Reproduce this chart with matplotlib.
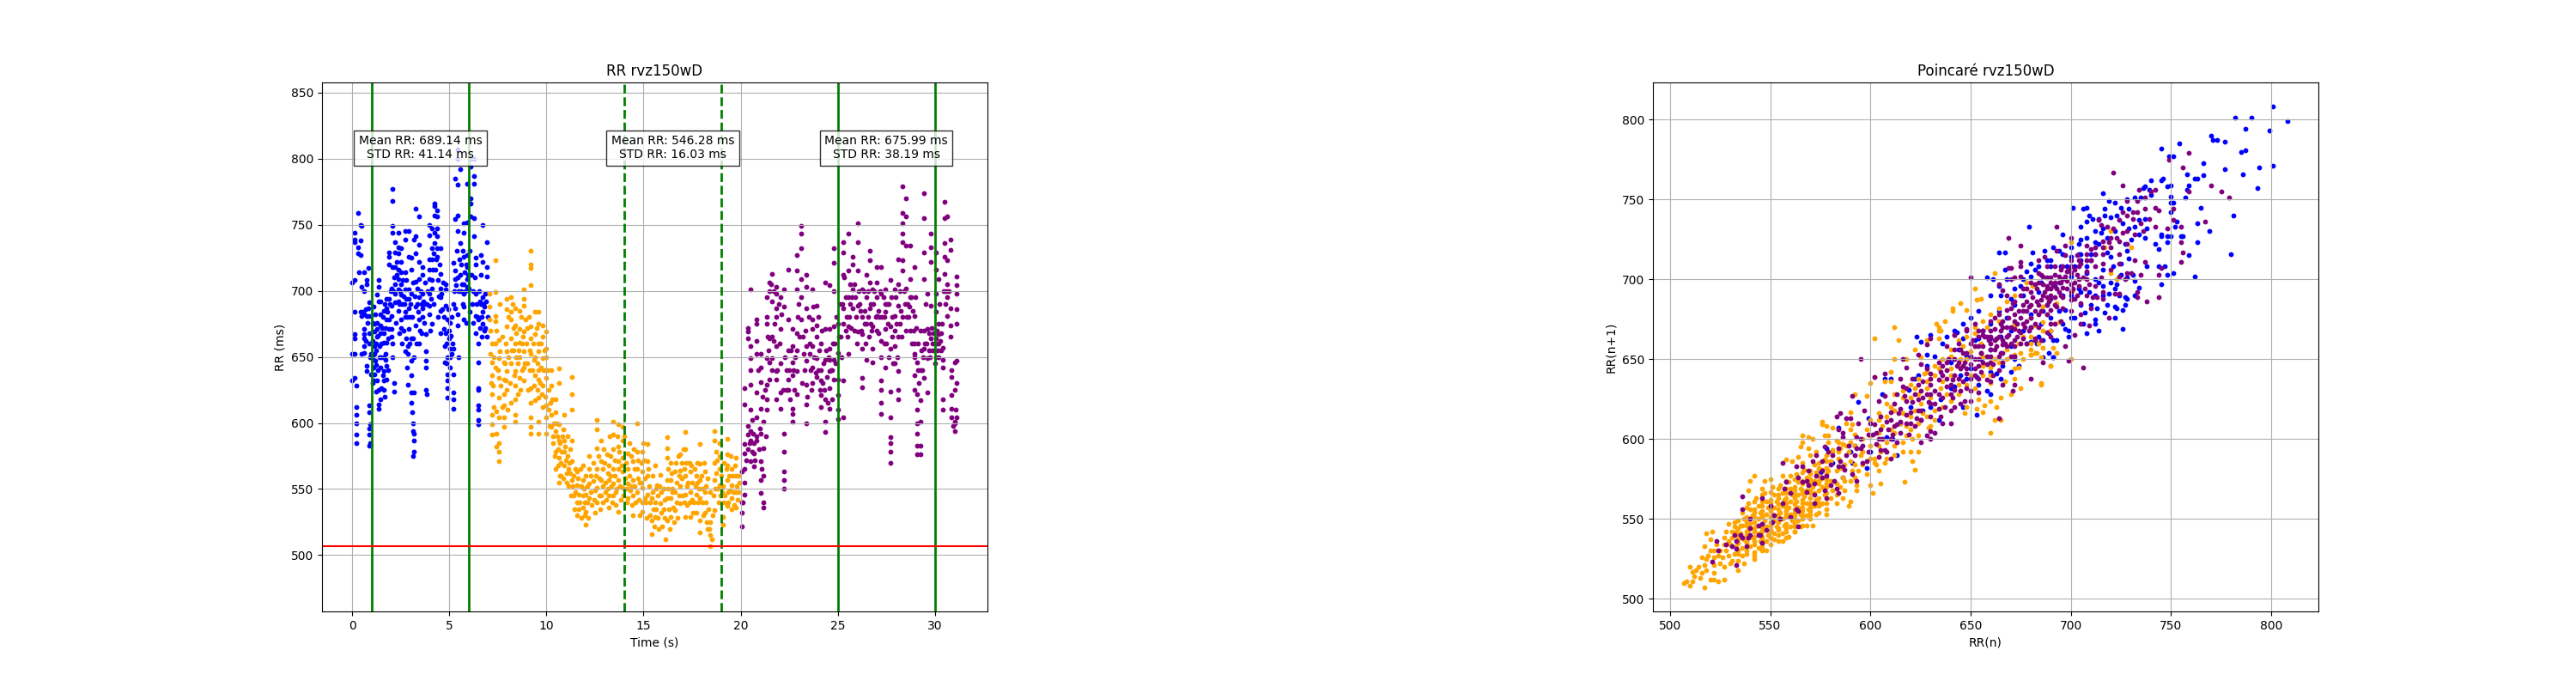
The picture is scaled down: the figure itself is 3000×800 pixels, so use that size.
import matplotlib
matplotlib.use("Agg")
from matplotlib import pyplot as plt

# RR series, (time, rr)
blue_rr = [(0,632),(0,652),(0,706),(0.09,737),(0.09,739),(0.09,744),(0.09,652),(0.09,664),(0.09,667),(0.13,684),(0.13,708),(0.13,634),
(0.18,612),(0.18,591),(0.18,600),(0.18,606),(0.2,585),(0.18,628),(0.28,733),(0.3,728),(0.3,759),(0.35,714),(0.4,750),(0.4,738),(0.4,727),(0.42,684),
(0.45,749),(0.45,703),(0.47,681),(0.47,652),(0.58,714),(0.58,700),(0.58,671),(0.58,664),(0.6,658),(0.6,667),(0.6,653),(0.72,705),(0.75,708),(0.72,681),(0.72,643),(0.72,639),
(0.8,717),(0.8,687),(0.82,681),(0.87,691),(0.87,613),(0.87,608),(0.87,596),(0.87,591),(0.87,583),(0.87,660),(0.94,681),(0.94,652),(0.94,637),(0.92,599),(0.92,585),
(1.12,675),(1.14,658),(1.14,652),(1.16,647),(1.14,637),(1.12,669),(1.05,650),(1.08,642),(1.1,632),(1.24,697),(1.24,671),(1.26,665),(1.24,632),(1.22,644),(1.2,655),(1.2,660),
(1.34,708),(1.36,703),(1.34,692),(1.34,625),(1.34,611),(1.34,614),(1.3,640),(1.46,692),(1.46,682),(1.46,674),(1.46,642),(1.46,618),(1.5,626),(1.48,650),(1.5,660),
(1.6,685),(1.6,668),(1.6,661),(1.6,650),(1.6,639),(1.62,632),(1.62,625),(1.75,694),(1.75,687),(1.75,678),(1.75,661),(1.75,643),(1.75,633),(1.7,652),(1.72,648),
(1.86,729),(1.86,726),(1.86,720),(1.86,694),(1.86,671),(1.86,678),(2,671),(2,665),(2,681),(2,689),(2.08,777),(2.08,768),(2.08,749),(2.08,744),(2.08,718),(2.08,650),(2.15,630),(2.15,624),
(2.2,737),(2.2,729),(2.2,718),(2.2,691),(2.2,698),(2.35,744),(2.35,733),(2.35,728),(2.35,716),(2.35,709),(2.35,701),(2.35,692),(2.35,685),(2.49,732),(2.49,722),(2.49,714),(2.49,705),(2.49,697),(2.49,678),(2.49,672),
(2.71,745),(2.71,739),(2.71,714),(2.71,701),(2.71,684),(2.71,680),(2.71,654),(2.89,745),(2.89,726),(2.89,701),(2.89,687),(2.89,671),(2.85,658),(2.85,652),(2.8,642),(2.85,629),
(3.04,725),(3.04,716),(3.04,698),(3.04,664),(3.04,647),(3.04,636),(3.04,623),(3.04,615),(3.06,608),(3.12,600),(3.14,594),(3.16,739),(3.16,587),(3.16,578),(3.14,575),(3.16,592),(3.16,623),(3.1,664),
(3.27,762),(3.27,741),(3.27,728),(3.27,707),(3.27,688),(3.27,674),(3.45,756),(3.45,735),(3.45,722),(3.45,709),(3.45,695),(3.45,678),(3.45,660),(3.6,718),(3.6,712),(3.6,698),(3.6,687),(3.6,680),
(3.79,667),(3.79,654),(3.79,647),(3.79,642),(3.79,625),(3.85,622),(3.94,750),(3.94,742),(3.94,724),(3.94,709),(3.94,698),(3.94,689),(3.94,682),(4.1,747),(4.1,724),(4.1,708),(4.1,702),(4.1,675),
(4.22,766),(4.22,764),(4.22,757),(4.22,744),(4.22,736),(4.38,761),(4.38,756),(4.38,747),(4.38,741),(4.38,726),(4.53,732),(4.53,713),(4.53,702),(4.53,695),(4.53,685),(4.78,705),(4.78,701),(4.78,689),(4.7,671),(4.75,658),(4.75,646),
(4.88,678),(4.88,637),(4.88,632),(4.88,626),(4.88,619),(4.88,650),(5.03,676),(5.03,665),(5.03,656),(5.03,650),(5.03,642),(5.22,721),(5.22,656),(5.22,637),(5.22,623),(5.22,618),(5.22,611),
(5.3,785),(5.3,754),(5.3,715),(5.3,709),(5.3,687),(5.44,780),(5.44,757),(5.44,807),(5.44,800),(5.44,745),(5.44,674),(5.44,682),(5.55,792),(5.55,736),(5.55,712),
(5.74,751),(5.74,744),(5.74,726),(5.74,705),(5.74,698),(5.74,688),(5.74,678),(5.91,781),(5.91,752),(5.91,727),(5.91,718),(5.91,709),(5.91,703),(6.1,800),(6.1,794),(6.1,770),(6.1,766),(6.1,756),
(6.25,800),(6.25,787),(6.25,781),(6.25,755),(6.25,741),(6.33,725),(6.33,720),(6.33,698),(6.33,681),(6.47,646),(6.47,626),(6.47,625),(6.47,613),(6.47,610),(6.47,602),(6.47,599),(6.47,660),
(6.7,750),(6.6,727),(6.7,722),(6.7,695),(6.7,684),(6.7,675),(6.92,737),(6.92,718),(6.92,711),(6.92,665),(6.85,698),(6.6,690),(6.65,680),(6.8,688),(6.55,672),
(0.55,684),(0.62,682),(0.68,686),(0.78,676),(0.85,668),(1.02,662),(1.05,676),(1.1,688),(1.18,682),(1.28,676),(1.32,666),(1.38,658),(1.42,668),(1.52,672),(1.55,680),(1.65,690),(1.7,672),(1.8,684),(1.82,664),(1.92,690),(1.95,700),(2.02,702),(2.12,700),
(2.14,710),(2.18,705),(2.26,712),(2.3,722),(2.4,690),(2.44,700),(2.54,690),(2.58,708),(2.62,696),(2.66,690),(2.76,694),(2.78,708),(2.82,680),(2.92,694),(2.96,680),(3,690),(3.08,680),(3.12,706),(3.22,696),(3.32,690),(3.36,702),(3.4,684),(3.48,670),(3.52,700),(3.56,690),(3.66,692),(3.7,676),(3.74,706),
(3.84,690),(3.88,700),(3.98,716),(4.04,694),(4.08,732),(4.14,716),(4.18,728),(4.26,716),(4.3,724),(4.34,732),(4.42,708),(4.46,696),(4.5,720),(4.6,698),(4.64,686),(4.68,706),(4.72,680),(4.82,668),(4.86,660),(4.92,686),(4.96,670),(5,664),(5.08,666),(5.12,652),(5.16,660),(5.26,700),(5.34,704),(5.38,730),(5.42,710),(5.48,700),(5.52,724),(5.6,720),(5.64,705),(5.68,730),(5.78,714),(5.82,700),(5.86,720),(5.95,712),(6,702),(6.04,730),(6.14,712),(6.18,690),(6.22,700),(6.3,710),(6.4,690),(6.44,680),(6.52,700),(6.56,692),(6.62,712),(6.75,690),(6.78,670),(6.88,692),(6.95,680),
(0.7,662),(0.9,650),(1.05,630),(1.2,624),(1.4,650),(1.55,636),(1.68,620),(1.85,640),(2.05,660),(2.25,676),(2.4,668),(2.55,660),(2.65,670),(2.75,664),(2.95,660),(3.15,650),(3.3,660),(3.55,668),(3.75,690),(4,670),(4.2,690),(4.4,680),(4.55,668),(4.85,645),(5.1,680),(5.2,690),(5.45,650),(5.6,700),(5.7,690),(5.85,676),(6.02,684),(6.2,676),(6.35,668),(6.5,678),(6.65,665),(6.82,672)]

orange_rr = [(7.05,698),(7.05,688),(7.05,678),(7.2,660),(7.2,646),(7.2,636),(7.2,622),(7.2,606),(7.2,599),(7.2,591),(7.35,723),(7.35,699),(7.35,681),(7.35,677),(7.35,660),(7.35,642),
(7.55,663),(7.55,649),(7.55,634),(7.55,619),(7.55,604),(7.55,585),(7.55,578),(7.55,571),(7.43,609),(7.43,592),(7.43,582),(7.8,646),(7.8,633),(7.8,622),(7.8,613),(7.8,604),(7.8,597),
(7.95,694),(7.95,686),(7.95,673),(7.95,654),(7.95,639),(7.95,625),(8.17,695),(8.17,684),(8.17,678),(8.17,664),(8.17,645),(8.39,687),(8.39,674),(8.39,660),(8.39,639),(8.39,628),(8.39,618),(8.39,606),(8.39,601),
(8.6,685),(8.6,671),(8.6,661),(8.6,650),(8.6,634),(8.83,701),(8.83,694),(8.83,689),(8.83,669),(8.83,654),(8.83,642),(8.83,632),(9.2,730),(9.2,720),(9.2,717),(9.2,704),(9.2,673),(9.2,664),(9.2,652),(9.2,626),(9.2,615),(9.2,604),(9.2,597),(9.2,592),
(9.42,684),(9.42,667),(9.42,636),(9.42,617),(9.6,684),(9.6,675),(9.6,654),(9.6,640),(9.6,633),(9.6,619),(9.6,601),(9.6,592),(9.8,674),(9.8,665),(9.8,649),(9.8,628),(9.8,612),
(10,669),(10,656),(10,650),(10,634),(10,613),(10,604),(10,592),(10.24,640),(10.24,628),(10.24,606),(10.24,597),(10.46,618),(10.46,608),(10.46,594),(10.46,578),(10.46,565),(10.63,641),(10.63,630),(10.63,599),(10.63,587),(10.63,574),(10.63,555),
(10.9,606),(10.9,587),(10.9,578),(10.9,568),(11.3,635),(11.3,622),(11.3,610),(11.3,587),(11.3,571),(11.3,557),(11.25,545),(11.56,563),(11.56,553),(11.56,540),(11.56,530),(11.86,568),(11.86,557),(11.86,545),(11.86,536),
(12.03,560),(12.03,546),(12.03,533),(12.03,523),(12.2,575),(12.2,565),(12.2,554),(12.2,543),(12.6,602),(12.6,595),(12.6,581),(12.6,565),(12.6,551),(12.6,540),(12.8,587),(12.8,571),(12.8,557),(12.8,545),
(13.2,568),(13.2,557),(13.2,545),(13.2,536),(13.43,601),(13.43,591),(13.43,580),(13.43,565),(13.43,554),(13.43,545),(13.7,599),(13.7,582),(13.7,571),(13.7,557),(13.7,533),(13.9,597),(13.9,587),(13.9,574),(13.9,563),(13.9,551),
(14.2,577),(14.2,565),(14.2,554),(14.2,543),(14.45,571),(14.45,557),(14.45,545),(14.45,530),(14.65,600),(14.65,578),(14.65,565),(14.65,548),(14.95,578),(14.95,563),(14.95,551),(14.95,533),(15.2,584),(15.2,571),(15.2,560),(15.2,546),
(15.4,543),(15.4,526),(15.4,516),(15.6,568),(15.6,540),(15.6,529),(15.85,561),(15.85,539),(16.2,589),(16.2,581),(16.2,574),(16.2,557),(16.2,543),(16.2,526),(16.15,512),(16.4,570),(16.4,557),(16.4,543),(16.4,529),
(16.6,563),(16.6,548),(16.6,534),(16.9,576),(16.9,564),(16.9,552),(16.9,539),(17.15,593),(17.15,580),(17.15,560),(17.15,546),(17.15,529),(17.4,563),(17.4,548),(17.4,529),(17.7,560),(17.7,546),(17.7,532),
(17.9,584),(17.9,569),(17.9,557),(17.9,543),(17.9,526),(17.9,517),(18.15,563),(18.15,548),(18.15,532),(18.45,548),(18.45,525),(18.45,515),(18.45,507),(18.65,594),(18.65,587),(18.65,570),(18.65,557),(18.65,534),
(18.9,585),(18.9,575),(18.9,565),(18.9,553),(19.1,552),(19.1,529),(19.1,523),(19.3,588),(19.3,576),(19.3,568),(19.3,557),(19.3,537),(19.55,565),(19.55,553),(19.55,543),(19.75,574),(19.75,560),(19.75,548),(19.75,536),(19.9,548),(19.9,560),
(11.5,548),(11.7,540),(12.4,556),(12.5,549),(12.9,552),(13.05,548),(13.3,560),(13.6,550),(14.05,558),(14.3,549),(14.8,555),(15.05,543),(15.7,553),(16.05,535),(16.5,550),(17,545),(17.3,555),(17.6,540),(18.05,540),(18.3,558),(19.2,545),(19.45,549),(10.8,590),(11.1,575),(11.4,560),
(7.1,670),(7.15,630),(7.28,650),(7.3,612),(7.48,640),(7.6,654),(7.65,628),(7.7,612),(7.88,660),(7.9,632),(8.02,680),(8.05,650),(8.1,630),(8.25,690),(8.28,655),(8.32,636),(8.45,668),(8.5,645),(8.52,622),(8.68,680),(8.72,660),(8.75,640),(8.9,678),(8.95,660),(9,645),(9.05,625),(9.1,680),(9.12,640),(9.3,660),(9.35,648),(9.38,628),(9.5,672),(9.52,645),(9.55,625),(9.7,660),(9.72,642),(9.75,622),(9.9,655),(9.92,640),(9.95,620),(10.1,625),(10.12,610),(10.15,598),(10.3,618),(10.35,585),(10.38,600),
(10.55,590),(10.58,580),(10.6,568),(10.7,585),(10.72,570),(10.75,560),(10.85,595),(10.95,582),(11,572),(11.02,562),(11.08,590),(11.12,565),(11.15,552),(11.2,580),(11.22,562),(11.35,552),(11.4,545),(11.42,535),(11.48,565),(11.62,558),(11.65,546),(11.68,535),(11.75,565),(11.78,552),(11.8,528),(11.92,550),(11.95,540),(11.98,530),(12.1,552),(12.12,540),(12.15,528),(12.28,560),(12.3,548),(12.32,538),(12.42,570),(12.45,542),(12.48,532),(12.55,560),(12.68,575),(12.7,558),(12.72,545),(12.75,535),(12.88,565),(12.92,540),(12.95,580),(13,570),(13.02,555),(13.08,542),(13.12,576),(13.15,562),(13.18,550),(13.25,590),(13.28,575),(13.32,552),(13.38,540),(13.5,572),(13.52,560),(13.55,548),(13.58,538),(13.65,590),(13.68,565),(13.75,578),(13.78,552),(13.82,542),(13.85,568),
(13.95,545),(14.02,590),(14.08,570),(14.12,550),(14.15,540),(14.25,585),(14.28,560),(14.35,575),(14.38,552),(14.42,538),(14.5,580),(14.52,565),(14.55,552),(14.58,540),(14.7,572),(14.72,558),(14.75,542),(14.78,530),(14.88,570),(14.9,555),(14.92,540),(15,585),(15.02,572),(15.08,558),(15.12,540),(15.15,528),(15.25,565),(15.28,552),(15.32,540),(15.35,530),(15.45,560),(15.48,548),(15.52,535),(15.55,522),(15.62,550),(15.65,535),(15.72,545),(15.75,528),(15.78,520),(15.82,552),(15.9,548),(15.92,532),(15.95,522),(16.02,550),(16.08,542),(16.1,528),(16.25,565),(16.28,550),(16.32,535),(16.35,520),(16.45,562),(16.48,548),(16.52,536),(16.55,525),(16.68,570),(16.7,555),(16.72,540),(16.75,528),(16.8,575),(16.82,560),(16.85,545),(16.95,570),(16.98,558),(17.05,580),(17.08,565),(17.1,540),(17.2,570),(17.22,552),(17.25,538),(17.35,570),(17.38,540),(17.45,568),(17.5,555),(17.52,542),(17.55,532),(17.65,565),(17.68,552),(17.75,570),(17.78,555),(17.8,540),(17.85,550),(18,560),(18.02,550),(18.08,530),(18.1,570),(18.2,552),(18.22,540),(18.25,525),(18.3,520),(18.35,535),(18.4,520),(18.5,512),(18.55,530),(18.6,545),(18.7,550),(18.72,578),(18.75,562),(18.8,572),(18.82,550),(18.85,540),(18.95,545),(19,560),(19.05,548),(19.12,570),(19.15,540),(19.25,565),(19.35,548),(19.38,540),(19.42,560),(19.5,575),(19.52,535),(19.6,560),(19.62,548),(19.65,538),(19.7,568),(19.8,552),(19.85,542),(19.95,555),
(7.12,652),(7.25,628),(7.4,670),(7.58,690),(7.72,665),(7.85,645),(8,610),(8.15,615),(8.2,655),(8.3,672),(8.42,650),(8.55,655),(8.65,625),(8.78,665),(8.88,645),(9,672),(9.15,655),(9.25,640),(9.4,650),(9.58,660),(9.68,630),(9.85,640),(10.05,640),(10.2,615),(10.32,590),(10.42,575),(10.52,600),(10.68,560),(10.78,578),(10.88,558),(11.05,555),(11.18,570)]

purple_rr = [(20.05,522),(20.05,532),(20.05,540),(20.05,563),(20.22,565),(20.22,555),(20.22,546),(20.22,577),(20.22,584),(20.22,614),(20.22,626),(20.37,598),(20.37,591),(20.37,580),(20.37,672),(20.37,664),(20.37,669),
(20.52,701),(20.52,658),(20.52,640),(20.52,649),(20.52,629),(20.52,610),(20.52,571),(20.52,587),(20.52,594),(20.7,585),(20.7,577),(20.7,567),(20.84,678),(20.84,675),(20.84,662),(20.84,652),(20.84,623),(20.84,604),(20.84,587),
(21.04,652),(21.04,642),(21.04,631),(21.04,611),(21.04,592),(21.04,571),(21.04,557),(21.04,547),(21.18,536),(21.18,540),(21.18,560),(21.18,581),(21.18,601),(21.33,695),(21.33,680),(21.33,675),(21.33,649),(21.33,618),(21.33,610),(21.33,629),
(21.48,706),(21.48,700),(21.48,664),(21.48,646),(21.48,633),(21.63,713),(21.63,692),(21.63,665),(21.63,649),(21.85,703),(21.85,698),(21.85,687),(21.85,680),(21.85,658),(21.85,639),(21.85,633),(21.85,618),
(22.07,695),(22.07,671),(22.07,623),(22.07,611),(22.22,701),(22.22,688),(22.22,592),(22.22,578),(22.22,563),(22.22,557),(22.22,550),(22.44,716),(22.44,678),(22.44,655),(22.44,633),(22.44,625),
(22.66,671),(22.66,658),(22.66,646),(22.66,636),(22.66,611),(22.66,607),(22.66,601),(22.88,727),(22.88,715),(22.88,701),(22.88,668),(22.88,639),(22.88,622),(23.1,749),(23.1,743),(23.1,732),(23.1,709),(23.1,695),(23.1,678),
(23.4,712),(23.4,703),(23.4,687),(23.4,658),(23.4,647),(23.4,629),(23.4,614),(23.4,600),(23.7,701),(23.7,678),(23.7,671),(23.7,658),(23.7,642),(23.7,630),(23.92,689),(23.92,674),(23.92,665),(23.92,649),
(24.14,640),(24.14,632),(24.14,621),(24.14,612),(24.36,706),(24.36,671),(24.36,648),(24.36,618),(24.36,601),(24.36,593),(24.58,704),(24.58,671),(24.58,656),(24.58,639),(24.58,626),(24.58,611),
(24.8,732),(24.8,721),(24.8,700),(24.8,673),(24.8,648),(24.8,633),(25.04,653),(25.04,633),(25.04,621),(25.04,610),(25.04,603),(25.3,737),(25.3,729),(25.3,712),(25.3,687),(25.3,675),(25.3,632),(25.3,604),
(25.55,743),(25.55,715),(25.55,695),(25.55,673),(25.55,652),(25.77,726),(25.77,720),(25.77,701),(25.77,687),(26.04,751),(26.04,737),(26.04,715),(26.04,689),(26.04,669),(26.28,701),(26.28,667),(26.28,656),(26.28,634),(26.28,627),
(26.5,712),(26.5,695),(26.5,675),(26.5,648),(26.65,730),(26.65,723),(26.65,706),(26.65,687),(26.8,701),(26.8,673),(26.8,656),(26.8,646),(27.03,718),(27.03,706),(27.03,695),(27.03,681),
(27.25,718),(27.25,698),(27.25,662),(27.25,650),(27.25,632),(27.25,625),(27.25,615),(27.25,607),(27.47,701),(27.47,684),(27.47,671),(27.47,642),(27.7,708),(27.7,673),(27.7,656),(27.7,624),(27.7,604),(27.7,589),(27.7,585),(27.7,578),(27.7,570),
(27.92,701),(27.92,681),(27.92,658),(27.92,645),(28.14,724),(28.14,705),(28.14,689),(28.14,639),(28.14,625),(28.14,618),(28.36,779),(28.36,759),(28.36,751),(28.36,743),(28.36,737),(28.36,723),(28.36,715),
(28.5,770),(28.5,756),(28.5,734),(28.5,702),(28.5,670),(28.72,734),(28.72,709),(28.72,695),(28.94,718),(28.94,681),(28.94,660),(28.94,652),(28.94,636),(28.94,625),(29.1,646),(29.1,622),(29.1,610),(29.1,600),(29.1,583),(29.1,592),(29.1,576),
(29.25,617),(29.25,601),(29.25,583),(29.25,576),(29.25,640),(29.45,774),(29.45,755),(29.45,729),(29.45,709),(29.45,670),(29.45,656),(29.45,634),(29.63,698),(29.63,671),(29.63,649),(29.63,623),(29.78,743),(29.78,733),(29.78,722),(29.78,689),(29.78,664),
(30.05,729),(30.05,716),(30.05,698),(30.05,684),(30.05,664),(30.05,650),(30.2,709),(30.2,675),(30.2,667),(30.2,660),(30.4,657),(30.4,648),(30.4,618),(30.4,610),(30.4,642),(30.5,767),(30.5,755),(30.5,736),(30.5,726),(30.5,713),
(30.65,756),(30.65,723),(30.65,705),(30.65,695),(30.65,681),(30.8,739),(30.8,731),(30.8,687),(30.8,674),(30.8,665),(30.88,635),(30.88,621),(30.88,611),(30.88,604),(31.02,594),(31.02,646),(31.02,625),(31.02,601),(31.12,711),(31.12,704),(31.12,698),(31.12,686),(31.12,675),(31.12,630),(31.12,604),(31.12,647),
(20.12,540),(20.3,572),(20.45,585),(20.58,578),(20.62,592),(20.75,572),(20.8,590),(20.95,580),(21,596),(21.1,565),(21.25,625),(21.4,665),(21.55,705),(21.7,700),(21.75,675),(21.95,690),(22,660),(22.12,682),(22.3,650),(22.35,625),(22.5,640),(22.55,618),(22.75,625),(22.8,650),(22.95,680),(23,690),(23.2,665),(23.25,652),(23.3,640),(23.5,680),(23.55,652),(23.6,640),(23.75,688),(23.8,650),(23.85,638),(24,680),(24.05,655),(24.1,625),(24.2,670),(24.25,645),(24.3,625),(24.45,635),(24.5,615),(24.52,650),(24.65,640),(24.7,618),(24.75,660),(24.9,645),(24.95,680),(25.1,690),(25.15,665),(25.2,650),(25.35,710),(25.4,695),(25.45,680),(25.5,665),(25.62,705),(25.65,690),(25.7,672),(25.85,705),(25.9,695),(25.95,680),(26.1,700),(26.15,685),(26.2,670),(26.35,700),(26.4,685),(26.45,660),(26.58,700),(26.6,665),(26.72,690),(26.75,670),(26.9,700),(26.95,680),(27.1,685),(27.12,668),(27.18,700),(27.35,695),(27.4,680),(27.42,660),(27.55,690),(27.6,675),(27.62,650),(27.78,695),(27.82,665),(27.85,645),(28,695),(28.05,675),(28.08,650),(28.2,700),(28.25,685),(28.3,665),(28.42,700),(28.6,690),(28.65,680),(28.8,695),(28.85,685),(28.9,670),(29,695),(29.05,672),(29.15,660),(29.2,630),(29.3,655),(29.35,640),(29.5,660),(29.55,690),(29.7,668),(29.72,655),(29.85,672),(29.9,660),(29.95,668),(30.1,670),(30.15,655),(30.25,690),(30.3,662),(30.35,668),(30.45,700),(30.55,690),(30.6,700),(30.75,700),(30.85,640),(30.95,598),(31.05,600),(31.08,610),
(20.6,602),(20.9,640),(21.15,620),(21.3,590),(21.45,655),(21.6,640),(21.72,662),(21.9,640),(22.05,645),(22.18,625),(22.38,640),(22.6,655),(22.72,640),(22.9,655),(23.05,665),(23.15,630),(23.35,670),(23.45,620),(23.58,660),(23.65,625),(23.9,635),(24.02,640),(24.12,660),(24.22,630),(24.42,655),(24.6,648),(24.72,640),(24.85,660),(25,675),(25.08,665),(25.25,690),(25.42,670),(25.6,680),(25.72,695),(25.88,670),(26,660),(26.12,690),(26.25,680),(26.38,675),(26.55,680),(26.7,675),(26.85,690),(27,670),(27.15,680),(27.3,680),(27.45,690),(27.5,660),(27.65,690),(27.8,680),(27.95,670),(28.1,665),(28.22,675),(28.35,680),(28.48,690),(28.55,680),(28.68,688),(28.75,670),(28.82,660),(28.98,650),(29.12,640),(29.28,670),(29.4,650),(29.6,660),(29.75,650),(29.88,655),(30,645),(30.12,660),(30.22,650),(30.32,655),(30.38,675)]

# Poincare pairs, (rr_n, rr_n1)
blue_poincare = [(801,808),(808,799),(782,801),(790,801),(787,794),(799,793),(770,790),(771,787),(773,787),(777,786),(785,780),(787,781),(794,770),(801,771),(777,769),(786,766),(793,757),(766,773),(766,765),
(754,785),(745,782),(749,777),(751,777),(758,766),(762,763),(763,763),(759,759),(758,756),(757,751),(765,745),(781,740),(763,735),(769,730),(763,723),(780,716),(759,715),(762,702),(751,704),(748,703),(752,733),(753,736),
(748,727),(750,727),(745,727),(745,728),(748,723),(755,727),(756,727),(744,719),(747,708),(744,708),(738,708),(745,697),(750,748),(751,748),(750,752),(750,742),(750,759),(748,758),(746,763),(745,762),(740,762),(737,758),(736,757),(740,753),(739,756),
(735,751),(732,751),(728,750),(722,748),(719,749),(716,754),(717,744),(725,745),(729,744),(708,745),(706,744),(701,745),(709,740),(711,738),(717,740),(720,739),(723,740),(714,738),(708,736),(705,733),(729,732),(732,733),(734,737),(737,738),(738,732),(737,726),(742,722),
(679,733),(696,728),(691,720),(687,718),(681,717),(664,717),(667,717),(667,706),(680,710),(658,701),(661,700),(726,669),(714,668),(708,666),(712,675),(722,676),(717,679),(726,681),(727,684),(722,683),(723,682),(727,689),(728,688),(732,690),(734,695),(732,699),(731,703),(728,701),(725,703),(723,697),(719,691),(716,696),(713,682),(710,684),(707,679),(705,684),(709,692),(714,698),(721,708),(725,710),(729,713),(728,718),(727,722),(720,714),(718,717),(712,716),(710,712),(708,708),(705,716),(712,723),(715,729),(705,725),
(699,664),(699,668),(693,662),(689,666),(686,662),(691,651),(686,680),(697,669),(697,681),(700,676),(623,664),(625,661),(630,665),(638,664),(646,663),(643,667),(628,653),(622,638),(610,638),(607,638),(606,628),(594,623),(599,613),(584,607),(592,596),(590,592),(591,585),(598,582),(600,592),(613,590),(608,601),(611,600),(619,631),(626,618),(634,612),(653,615),(660,628),(658,630),(653,639),(665,638),(663,641),(670,642),(674,646),(686,651),(689,654),(691,651),(683,660),(691,662),(680,661),(670,658),(660,663),(654,663),(648,638),(642,633),(646,620),(581,585),(586,576),(578,594),(575,579),
(660,672),(664,680),(668,676),(672,684),(676,690),(680,678),(684,692),(688,684),(692,696),(696,690),(700,702),(704,694),(708,704),(712,700),(716,706),(640,648),(644,656),(648,652),(652,662),(656,668),(700,714),(695,708),(705,712),(690,708),(685,698),
(665,690),(670,688),(675,696),(680,702),(672,694),(678,705),(684,708),(690,712),(696,716),(700,720),(704,722),(708,726),(712,730),(716,732),(702,708),(710,716),(714,722),(718,726),(722,730),(726,735),(730,725),(734,728),(720,698),(724,690),(716,690),(712,690),(705,692),(700,690),(694,680),(690,676),(685,672),(680,670),(676,668),(670,668),(665,664),(660,656),(655,650),(650,644),(645,640),(640,632),(635,625),(630,620),(625,612),(620,620),(615,610),
(676,700),(682,706),(688,712),(694,718),(698,708),(704,716),(660,690),(664,696),(668,700),(654,680),(650,676),(646,672),(642,668),(636,660),(632,652),(628,646),(624,640),(706,672),(712,672),(718,684),(722,694),(702,676),(696,672),(690,668),(684,664),(678,660),(672,650),(666,646),(660,642),(654,634)]

orange_poincare = [(507,510),(508,511),(510,508),(511,511),(517,507),(520,512),(524,511),(527,512),(510,520),(511,517),(513,518),(515,513),(517,521),(518,525),(519,527),(522,516),(522,521),(525,522),(517,533),(518,541),(521,542),(520,537),(522,530),(524,527),(527,534),(528,542),(529,547),(532,545),(534,518),(537,522),(531,524),(529,527),(542,527),(542,525),(538,528),(536,527),(546,530),(548,530),(552,537),(556,536),(559,539),(562,542),(565,545),(568,546),(571,546),(573,553),(578,553),(575,559),(583,560),(586,563),(589,558),(590,561),(593,568),(593,571),(587,568),(598,578),(600,571),(601,566),(605,572),(617,573),(622,581),(621,586),(607,585),(603,584),(602,585),(602,588),(605,592),(616,592),(620,592),(624,592),(618,602),(621,600),(624,602),(630,608),(629,607),
(539,568),(540,574),(542,577),(547,574),(550,575),(546,569),(551,570),(556,577),(558,587),(561,586),(564,589),(566,602),(569,601),(571,600),(566,598),(565,595),(569,594),(573,592),(570,590),(566,585),(576,611),(576,609),(578,608),(581,607),(577,602),(579,602),(579,598),(583,599),(586,597),(581,593),(584,592),(590,617),(588,610),(591,609),(590,606),(592,603),(598,627),(592,628),(602,663),(614,662),(612,650),(618,650),(610,642),(607,636),(600,635),(602,639),(610,636),(622,656),(627,641),(625,651),(628,662),(634,663),(635,668),(612,670),(660,604),(662,612),(665,612),(663,620),(656,617),(653,619),(657,621),(647,616),(648,620),(654,625),(660,624),(665,626),(670,628),(675,632),(685,635),(685,634),(667,636),(672,638),(660,635),(690,646),(674,645),(683,654),(680,660),(691,657),(680,653),(672,653),(660,645),
(662,704),(652,694),(653,687),(655,688),(645,685),(641,682),(641,680),(648,681),(633,672),(637,674),(634,670),(634,668),(720,730),(700,723),(730,720),(717,720),(720,704),(723,700),(678,698),(681,696),(678,694),(701,693),(693,685),(686,683),(694,673),(682,671),(686,673),(672,672),(686,657),(682,654),(680,653),(675,654),(672,652),(693,654),(690,646),(700,650),(685,651),
(528,530),(529,536),(532,528),(533,533),(531,538),(533,542),(532,548),(536,532),(537,537),(535,541),(536,546),(537,550),(536,554),(540,533),(541,538),(539,543),(540,547),(541,552),(540,556),(539,560),(544,532),(545,536),(544,541),(543,545),(544,550),(545,554),(544,558),(543,563),(548,536),(549,540),(548,545),(547,549),(548,553),(549,557),(548,561),(547,566),(552,541),(553,545),(552,549),(551,553),(552,557),(553,561),(552,565),(551,570),(556,541),(557,546),(556,550),(555,554),(556,558),(557,562),(556,566),(555,571),(560,545),(561,549),(560,553),(559,557),(560,561),(561,565),(560,569),(559,573),(560,577),(564,549),(565,553),(564,557),(563,561),(564,565),(565,569),(564,573),(563,578),(568,552),(569,556),(568,560),(567,564),(568,568),(569,572),(568,576),(567,581),(572,558),(573,562),(572,566),(571,570),(572,574),(573,579),(572,584),(576,560),(577,565),(576,570),(575,575),(576,581),(577,587),(580,563),(581,568),(580,574),(579,580),(580,586),(581,592),(585,570),(586,576),(585,582),(584,588),(585,594),(590,574),(591,580),(590,586),(589,592),(590,598),
(595,590),(600,596),(605,600),(610,606),(615,610),(620,614),(625,622),(630,626),(635,632),(640,640),(645,650),(650,655),(655,660),(598,606),(604,612),(610,620),(616,626),(622,632),(628,636),(634,644),(640,652),(646,658),(652,666),(658,670),(664,674),
(514,520),(516,526),(518,518),(520,530),(522,526),(523,534),(525,530),(526,526),(527,538),(530,534),(531,542),(534,528),(534,537),(535,546),(538,535),(538,540),(538,548),(542,536),(542,542),(542,548),(542,554),(546,534),(546,539),(546,544),(546,552),(546,558),(550,538),(550,543),(550,548),(550,555),(550,560),(554,543),(554,548),(554,556),(554,563),(558,544),(558,551),(558,555),(558,560),(558,566),(562,547),(562,552),(562,556),(562,563),(562,568),(566,550),(566,555),(566,560),(566,566),(566,572),(570,555),(570,560),(570,566),(570,572),(570,578),(574,560),(574,568),(574,574),(574,582),(578,566),(578,572),(578,578),(578,586),(583,565),(583,572),(583,580),(587,574),(587,584),(592,576),(592,584),(596,584),(596,592),(600,588),(600,602),(604,596),(606,608),(608,614),(612,604),(612,618),(616,616),(620,626),(624,628),(628,632),(632,640),(636,636),(640,644),(644,646),(648,650),(652,658),(656,652),(662,662),(668,664),(672,670),(680,676),(688,678),(676,664),
(530,522),(534,524),(527,520),(522,512),(516,516),(512,514),(594,580),(598,586),(604,604),(608,598),(612,596),(618,608),(622,618),(626,616),(632,618),(638,628),(644,634),(650,640),(656,646),(662,650),(668,656),(674,660),(680,664),(686,668),(690,668),
(534,530),(534,535),(534,540),(534,544),(534,549),(538,530),(538,536),(538,542),(538,546),(538,551),(538,557),(542,529),(542,534),(542,539),(542,544),(542,551),(542,556),(542,561),(546,532),(546,537),(546,542),(546,547),(546,551),(546,555),(546,561),(546,565),(550,534),(550,538),(550,542),(550,546),(550,551),(550,556),(550,562),(550,567),(554,536),(554,540),(554,544),(554,551),(554,553),(554,559),(554,565),(554,569),(558,538),(558,542),(558,547),(558,553),(558,557),(558,563),(558,569),(558,574),(562,542),(562,545),(562,550),(562,554),(562,559),(562,565),(562,570),(562,575),(566,546),(566,552),(566,557),(566,562),(566,568),(566,574),(566,579),(570,550),(570,553),(570,557),(570,563),(570,568),(570,575),(570,580),(574,554),(574,558),(574,563),(574,572),(574,577),(574,585),(578,556),(578,560),(578,570),(578,575),(578,582),(578,590),
(584,598),(588,596),(592,596),(596,600),(600,612),(604,616),(608,622),(612,628),(616,630),(620,634),(624,638),(628,642),(632,646),(636,650),(640,656),(644,662),(648,664),(652,670),(656,674),(660,678),(664,682),(668,686),(672,690),(604,580),(608,588),(612,590),(616,598),(620,606),(624,610),(628,614),(632,612),(636,620),(640,624),(644,628),(648,634),(652,632),(656,640),(660,640),(664,648),(668,650),(672,644),(676,650),(680,656),(684,660)]

purple_poincare = [(759,779),(749,775),(756,770),(721,767),(726,759),(770,759),(775,755),(779,751),(759,755),(742,756),(734,756),(740,755),(728,749),(733,749),(737,751),(751,744),(742,745),(744,743),(737,744),(731,742),(733,742),(726,742),(728,740),(751,737),(767,736),(755,733),(748,732),(742,733),(739,738),(731,738),(735,735),(724,737),(721,732),(718,733),(714,737),(715,734),(755,723),(756,717),(755,711),(737,711),(745,707),(744,703),(735,703),(730,704),(727,700),(724,702),(733,692),(733,689),(738,686),(744,689),(722,691),(724,691),(719,676),(716,688),(713,689),(705,672),(709,671),(702,665),(697,658),(699,649),(706,645),
(693,733),(669,726),(675,721),(700,726),(650,701),(664,697),(666,693),(697,721),(693,718),(687,714),(684,712),(675,711),(675,708),(669,707),(670,707),(672,701),(670,700),(675,702),
(595,650),(602,639),(607,641),(591,627),(585,616),(583,614),(588,613),(590,613),(597,618),(594,610),(584,606),(586,604),(586,601),(593,601),(595,600),(599,603),(601,603),(602,609),(603,604),(605,614),(607,627),(604,624),(589,596),(593,594),(595,594),(577,595),(573,590),(571,586),(576,586),(579,592),(581,590),(585,586),(584,583),(586,583),(587,581),(591,578),(593,574),(596,585),(598,586),(556,585),(563,583),(566,583),(569,580),(573,577),(578,577),(576,576),(580,571),(582,574),(583,569),(584,566),(577,568),(578,563),(572,565),(572,560),(568,567),(566,573),(569,571),(558,573),(557,569),(536,564),(536,556),(546,563),(550,558),(540,550),(563,556),(564,555),(560,551),(555,550),(551,548),(546,547),(544,546),(564,545),(535,540),(540,540),(545,540),(539,538),(523,536),(533,536),(531,533),(533,531),(538,533),(546,535),(521,523),(533,521),
(599,592),(603,597),(605,593),(607,593),(608,592),(610,588),(604,589),(613,598),(611,603),(609,606),(610,617),(608,611),(613,609),(615,611),(615,619),(618,615),(620,617),(622,608),(625,598),(628,602),(630,600),(632,604),(630,605),(619,603),(623,613),(625,612),(621,623),(624,625),(626,626),(629,623),(632,622),(636,610),(640,610),(634,619),(617,627),(613,628),(616,633),(615,638),(618,645),(616,650),(621,638),(625,630),(628,628),(630,628),(637,620),(641,626),(645,622),(650,624),(654,629),(658,637),(664,613),(680,638),(671,630),(666,634),(647,624),(642,631),(638,633),(634,637),(630,641),(628,644),(625,647),(624,653),(628,659),(630,663),(634,648),(638,643),(641,637),(645,644),(648,641),(650,647),(643,646),(647,648),(642,665),(638,658),(644,660),(648,668),(652,644),(658,647),(661,640),(664,643),(672,634),(655,654),(659,662),(663,663),(666,659),(669,665),(654,664),(675,667),(682,663),(686,648),
(639,650),(645,656),(651,662),(656,665),(662,669),(668,664),(672,669),(662,662),(665,672),(669,676),(673,672),(676,680),(679,683),(668,681),(671,685),(675,690),(678,694),(681,689),(683,694),(686,697),(688,701),(692,703),(695,698),(698,699),(700,697),(703,703),(706,701),(709,697),(711,689),(715,701),(692,689),(696,689),(690,681),(693,683),(688,678),(690,672),(682,672),(679,668),(685,687),(688,689),(700,687),(703,690),(705,685),(697,715),(700,712),(703,715),(705,710),(708,705),(710,712),(708,721),(710,719),(716,724),(719,723),(723,726),(726,729),(716,710),(688,708),(690,701),(695,706),(698,705),(685,703),(682,697),(652,672),(648,669),(642,665),(646,654),(655,654),(660,656),(666,654),(672,658),(676,663),(682,662),(688,667),(692,672),(661,647),
(636,640),(640,634),(644,648),(650,652),(654,646),(658,652),(662,656),(666,662),(670,660),(674,668),(678,674),(682,680),(686,690),(690,694),(694,692),(698,694),(702,698),(694,702),(690,698),(686,702),(680,692),(676,684),(672,678),(668,670),(664,664),(660,660),(656,658),(652,650),
(632,630),(635,642),(638,648),(642,640),(646,646),(650,660),(654,658),(657,664),(660,668),(663,658),(665,668),(667,660),(670,670),(673,664),(675,676),(677,670),(680,684),(683,686),(685,680),(687,692),(689,686),(691,696),(693,694),(695,690),(697,702),(699,706),(701,694),(704,708),(707,694),(692,708),(694,698),(700,704),(688,694),(684,698),(678,686),(674,680),(670,682),(666,670),(662,676),(658,664),(654,668),(650,638),(646,636),(642,650),(638,638),(634,628),(630,634),(626,636),(622,628),(618,624),(614,616),(610,612),(606,600),(612,608),(618,610),(624,618),(630,614),(636,626),(642,620),(648,632),(654,638),(660,648),(666,648),(672,652),(678,660),(684,670),(690,690),(696,695),(702,706),(708,712),(712,708),(716,716),(720,720),(724,716),(728,730),(712,720),(704,700),
(604,600),(600,610),(596,596),(592,590),(588,590),(584,594),(580,584),(576,580),(572,572),(568,574),(564,576),(560,566),(556,560),(552,552),(548,543),(544,540),(540,544),(536,538),(532,540),(528,534),(524,530),
(640,628),(644,638),(648,644),(652,640),(656,648),(660,652),(664,652),(668,658),(672,662),(676,672),(680,676),(684,678),(688,684),(692,684),(696,682),(700,692),(704,696),(708,690),(712,696),(716,692),(720,706),(724,710),(728,704),(732,712),(652,658),(656,668),(660,674),(664,678),(668,690),(672,686),(676,694),(680,698),(684,704),(688,696),(692,698),(696,708),(700,708),(704,712),(708,716),(712,716),(716,720),(720,726),(724,724),(728,722),(732,728),(736,730),
(605,606),(610,600),(615,604),(620,610),(625,618),(630,622),(635,614),(640,618),(645,630),(650,630),(655,642),(660,636),(665,654),(670,652),(675,660),(680,670),(685,662),(690,664),(695,674),(700,680),(705,678),(710,682),(612,622),(618,632),(624,634),(630,638),(636,646),(642,656),(648,654),(654,650),(660,664),(666,674),(672,674),(678,680),(684,684),(690,688),(696,700),(702,688),(708,700)]

# segment boundaries (green), mean/std per segment
seg_starts = [1, 14, 25]
seg_ends = [6, 19, 30]
seg_styles = ['-', '--', '-']
seg_mean = [689.14, 546.28, 675.99]
seg_std = [41.14, 16.03, 38.19]
rr_min = 507

fig = plt.figure(figsize=(30, 8), dpi=100)
ax1 = fig.add_axes([0.125, 0.11, 0.25833, 0.77])
ax2 = fig.add_axes([0.64167, 0.11, 0.25833, 0.77])

for pts, col in [(blue_rr, 'blue'), (orange_rr, 'orange'), (purple_rr, 'purple')]:
    t, rr = zip(*pts)
    ax1.scatter(t, rr, color=col, s=10)

for start, end, ls, m, s in zip(seg_starts, seg_ends, seg_styles, seg_mean, seg_std):
    ax1.axvline(start, color='green', linestyle=ls, linewidth=2)
    ax1.axvline(end, color='green', linestyle=ls, linewidth=2)
    ax1.text((start + end) / 2, 808, f"Mean RR: {m:.2f} ms\nSTD RR: {s:.2f} ms", ha='center', va='center',
             bbox=dict(facecolor='white', alpha=0.8, edgecolor='black'))
ax1.axhline(rr_min, color='red', linewidth=1.5)
ax1.set_xlim(-1.57, 32.72)
ax1.set_ylim(457.4, 857.6)
ax1.set_xlabel('Time (s)')
ax1.set_ylabel('RR (ms)')
ax1.set_title('RR rvz150wD')
ax1.grid(True)

for pts, col in [(blue_poincare, 'blue'), (orange_poincare, 'orange'), (purple_poincare, 'purple')]:
    x, y = zip(*pts)
    ax2.scatter(x, y, color=col, s=10)
ax2.set_xlim(491.5, 823.6)
ax2.set_ylim(492, 823.3)
ax2.set_xlabel('RR(n)')
ax2.set_ylabel('RR(n+1)')
ax2.set_title('Poincaré rvz150wD')
ax2.grid(True)

plt.savefig('out.png')
